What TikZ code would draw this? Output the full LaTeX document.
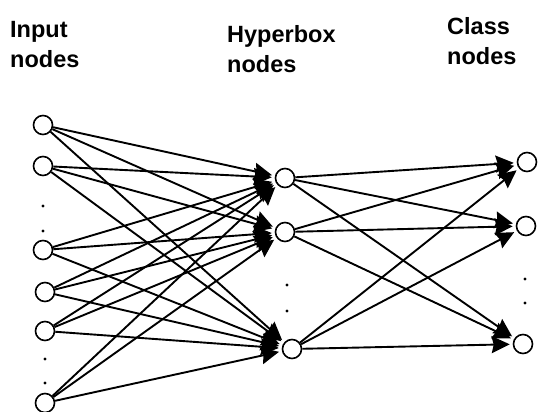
\documentclass[tikz,border=0pt]{standalone}
\usepackage{fontspec}
\setmainfont{Liberation Sans}
\usetikzlibrary{arrows.meta}
\begin{document}
\begin{tikzpicture}[x=1pt,y=-1pt,
  neuron/.style={circle,draw,line width=1.6pt,minimum size=19pt,inner sep=0pt,fill=white},
  conn/.style={line width=1.9pt,shorten >=3pt,-{Stealth[length=18pt,width=17pt,inset=2pt]}},
  dotmark/.style={circle,fill,inner sep=0pt,minimum size=3.4pt},
  lbl/.style={anchor=base west,align=left,inner sep=0pt,font=\fontsize{23.5}{30.5}\selectfont\bfseries}]
\useasboundingbox (0,0) rectangle (544,412);
% labels (anchor at baseline of last line)
\node[lbl] (linput) at (10,68) {Input\\nodes};
\node[lbl] (lhyper) at (227,73) {Hyperbox\\nodes};
\node[lbl] (lclass) at (447,65) {Class\\nodes};
% input nodes
\node[neuron] (i1) at (43,125) {};
\node[neuron] (i2) at (43,166) {};
\node[neuron] (i3) at (43,250) {};
\node[neuron] (i4) at (45,292) {};
\node[neuron] (i5) at (45,331) {};
\node[neuron] (i6) at (45,403) {};
% hyperbox nodes
\node[neuron] (h1) at (285,178) {};
\node[neuron] (h2) at (285,232) {};
\node[neuron] (h3) at (292,349) {};
% class nodes
\node[neuron] (c1) at (527,162) {};
\node[neuron] (c2) at (526,226) {};
\node[neuron] (c3) at (523,344) {};
% dots
\node[dotmark] (d1) at (43,206) {};
\node[dotmark] (d2) at (43,231) {};
\node[dotmark] (d3) at (45,359) {};
\node[dotmark] (d4) at (45,383) {};
\node[dotmark] (d5) at (287,285) {};
\node[dotmark] (d6) at (287,311) {};
\node[dotmark] (d7) at (525,279) {};
\node[dotmark] (d8) at (525,303) {};
% connections
\foreach \i in {1,...,6}{
  \foreach \h in {1,2,3}{
    \draw[conn] (i\i) -- (h\h);
  }
}
\foreach \h in {1,2,3}{
  \foreach \c in {1,2,3}{
    \draw[conn] (h\h) -- (c\c);
  }
}
\end{tikzpicture}
\end{document}
